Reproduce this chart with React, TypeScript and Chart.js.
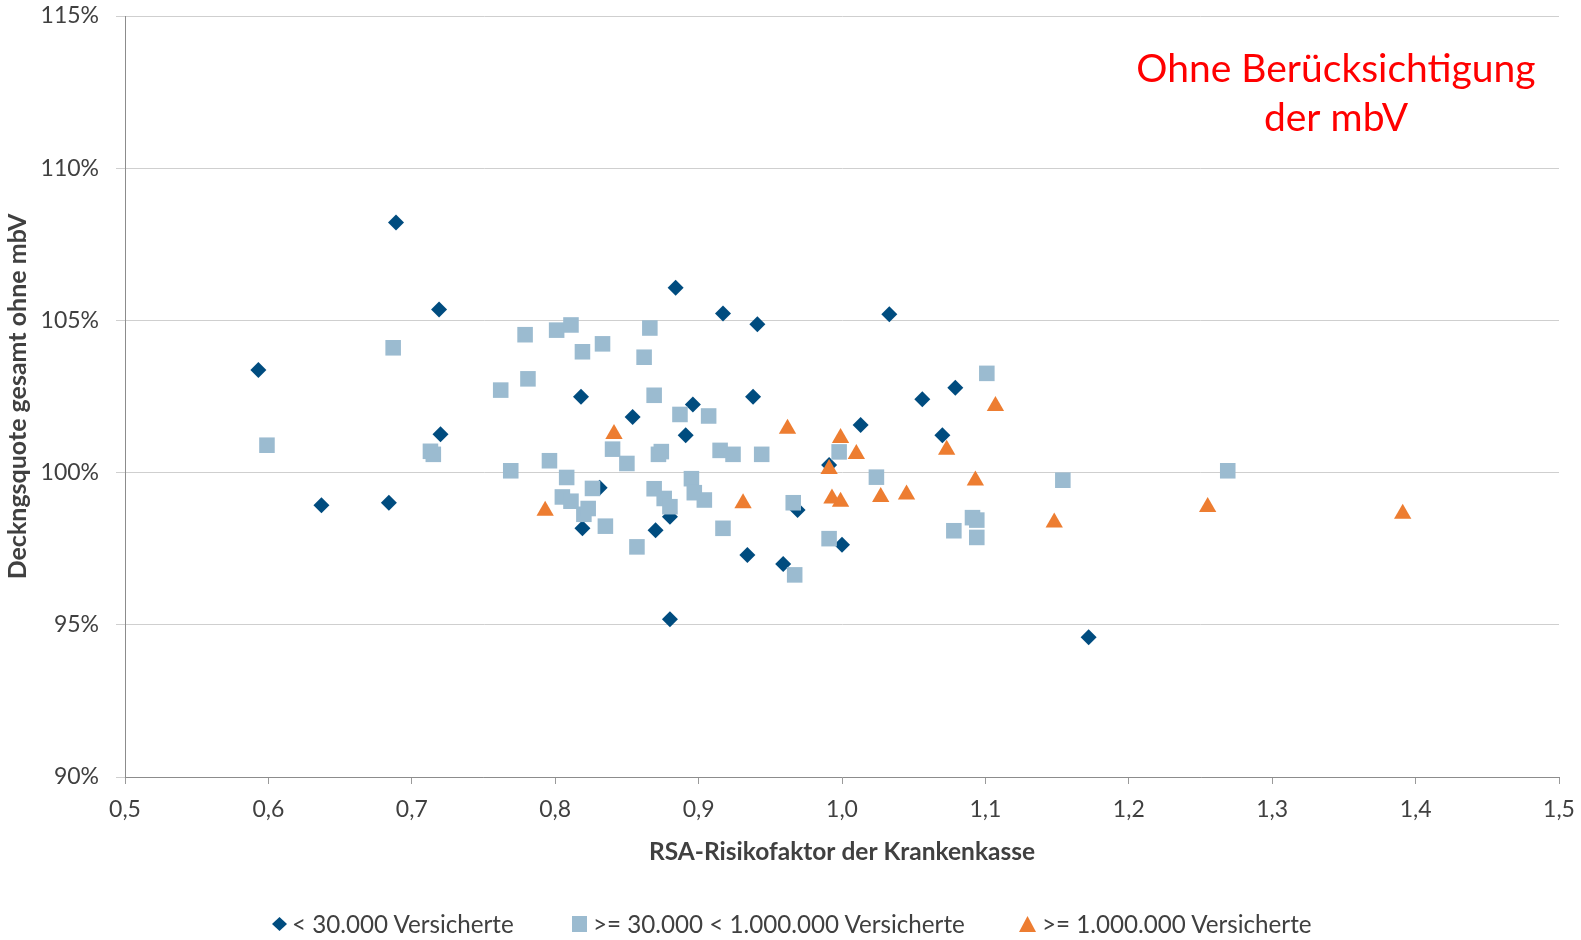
import React, { useEffect, useRef } from "react";
import { Chart, registerables } from "chart.js";

Chart.register(...registerables);

// ---- data ----
const smallX = [0.593, 0.637, 0.684, 0.689, 0.719, 0.720, 0.818, 0.819, 0.831, 0.854, 0.870, 0.880, 0.880, 0.884, 0.891, 0.896, 0.917, 0.934, 0.938, 0.941, 0.959, 0.969, 0.991, 1.000, 1.013, 1.033, 1.056, 1.070, 1.079, 1.172];
const smallY = [103.37, 98.93, 99.01, 108.22, 105.36, 101.26, 102.49, 98.17, 99.5, 101.83, 98.11, 95.18, 98.55, 106.07, 101.23, 102.24, 105.23, 97.29, 102.49, 104.87, 97.0, 98.77, 100.25, 97.63, 101.56, 105.2, 102.41, 101.23, 102.79, 94.59];

const midX = [0.599, 0.687, 0.713, 0.715, 0.762, 0.769, 0.779, 0.781, 0.796, 0.801, 0.805, 0.808, 0.811, 0.811, 0.819, 0.820, 0.823, 0.826, 0.833, 0.835, 0.840, 0.850, 0.857, 0.862, 0.866, 0.869, 0.869, 0.872, 0.874, 0.876, 0.880, 0.887, 0.895, 0.897, 0.904, 0.907, 0.915, 0.917, 0.924, 0.944, 0.966, 0.967, 0.991, 0.998, 1.024, 1.078, 1.091, 1.094, 1.094, 1.101, 1.154, 1.269];
const midY = [100.9, 104.1, 100.7, 100.6, 102.71, 100.06, 104.53, 103.08, 100.39, 104.68, 99.2, 99.84, 99.06, 104.85, 103.97, 98.63, 98.82, 99.48, 104.23, 98.24, 100.77, 100.3, 97.56, 103.79, 104.75, 102.54, 99.47, 100.6, 100.69, 99.15, 98.88, 101.91, 99.8, 99.34, 99.1, 101.86, 100.73, 98.17, 100.6, 100.6, 99.01, 96.64, 97.83, 100.68, 99.85, 98.09, 98.52, 98.44, 97.87, 103.26, 99.75, 100.06];

const largeX = [0.793, 0.841, 0.931, 0.962, 0.991, 0.993, 0.999, 0.999, 1.010, 1.027, 1.045, 1.073, 1.093, 1.107, 1.148, 1.255, 1.391];
const largeY = [98.75, 101.27, 98.99, 101.44, 100.12, 99.15, 101.14, 99.04, 100.61, 99.2, 99.28, 100.75, 99.74, 102.19, 98.36, 98.87, 98.65];

const seriesNames = ["< 30.000 Versicherte", ">= 30.000 < 1.000.000 Versicherte", ">= 1.000.000 Versicherte"];
const xTickLabels = ["0,5", "0,6", "0,7", "0,8", "0,9", "1,0", "1,1", "1,2", "1,3", "1,4", "1,5"];
const yTickLabels = ["90%", "95%", "100%", "105%", "110%", "115%"];
const xTitle = "RSA-Risikofaktor der Krankenkasse";
const yTitle = "Deckngsquote gesamt ohne mbV";
const noteLines = ["Ohne Berücksichtigung", "der mbV"];

// ---- styles ----
const W = 1581;
const H = 940;
const PLOT_LEFT = 125;
const PLOT_BOTTOM = 777;
const C_SMALL = "#004C7F";
const C_MID = "#9BBBD0";
const C_LARGE = "#ED7D31";
const TEXT = "#404040";
const FONT = "Lato";

const zip = (xs: number[], ys: number[]) => xs.map((x, i) => ({ x, y: ys[i] }));

const notePlugin = {
  id: "note",
  afterDraw(chart: any) {
    const ctx = chart.ctx;
    ctx.save();
    ctx.fillStyle = "#FF0000";
    ctx.font = `39px ${FONT}`;
    ctx.textAlign = "center";
    ctx.textBaseline = "alphabetic";
    ctx.fillText(noteLines[0], 1336, 82);
    ctx.fillText(noteLines[1], 1336, 131);
    ctx.restore();
  },
};

export default function App() {
  const ref = useRef<HTMLCanvasElement>(null);

  useEffect(() => {
    document.body.style.margin = "0";
    let chart: Chart | null = null;
    let cancelled = false;
    const make = () => {
      if (cancelled || !ref.current) return;
      chart = new Chart(ref.current, {
        type: "scatter",
        data: {
          datasets: [
            {
              label: seriesNames[0],
              data: zip(smallX, smallY),
              pointStyle: "rectRot",
              pointRadius: 8,
              backgroundColor: C_SMALL,
              borderColor: C_SMALL,
              borderWidth: 0,
              order: 3,
            },
            {
              label: seriesNames[1],
              data: zip(midX, midY),
              pointStyle: "rect",
              pointRadius: 11,
              backgroundColor: C_MID,
              borderColor: C_MID,
              borderWidth: 0,
              order: 2,
            },
            {
              label: seriesNames[2],
              data: zip(largeX, largeY),
              pointStyle: "triangle",
              pointRadius: 10,
              backgroundColor: C_LARGE,
              borderColor: C_LARGE,
              borderWidth: 0,
              order: 1,
            },
          ],
        },
        options: {
          responsive: false,
          animation: false,
          events: [],
          layout: { padding: { left: 0, top: 16, right: 22, bottom: 0 } },
          plugins: {
            legend: { display: false },
            tooltip: { enabled: false },
          },
          scales: {
            x: {
              type: "linear",
              min: 0.5,
              max: 1.5,
              ticks: {
                stepSize: 0.1,
                autoSkip: false,
                maxRotation: 0,
                padding: 12,
                color: TEXT,
                font: { family: FONT, size: 23 },
                callback: (v: any) => xTickLabels[Math.round((Number(v) - 0.5) * 10)] ?? "",
              },
              grid: { drawOnChartArea: false, drawTicks: true, tickLength: 7, color: "#9a9a9a" },
              border: { color: "#8c8c8c", width: 1 },
              title: {
                display: true,
                text: xTitle,
                color: TEXT,
                font: { family: FONT, size: 24.5, weight: "bold" },
                padding: { top: 0, bottom: 73 },
              },
              afterFit: (s: any) => {
                s.height = H - PLOT_BOTTOM;
                s.paddingLeft = 0;
                s.paddingRight = 0;
              },
            },
            y: {
              type: "linear",
              min: 90,
              max: 115,
              ticks: {
                stepSize: 5,
                padding: 17,
                color: TEXT,
                font: { family: FONT, size: 23 },
                callback: (v: any) => yTickLabels[Math.round((Number(v) - 90) / 5)] ?? "",
              },
              grid: { color: "#cfcfcf", tickLength: 9 },
              border: { color: "#8c8c8c", width: 1 },
              title: {
                display: true,
                text: yTitle,
                color: TEXT,
                font: { family: FONT, size: 25, weight: "bold" },
                padding: { top: 3, bottom: 0 },
              },
              afterFit: (s: any) => {
                s.width = PLOT_LEFT;
                s.paddingTop = 0;
                s.paddingBottom = 0;
              },
            },
          },
        },
        plugins: [notePlugin],
      } as any);
    };
    Promise.all([
      document.fonts.load(`23px ${FONT}`),
      document.fonts.load(`bold 24px ${FONT}`),
    ]).then(make, make);
    return () => {
      cancelled = true;
      if (chart) chart.destroy();
    };
  }, []);

  const legendText: React.CSSProperties = {
    position: "absolute",
    top: 909,
    height: 30,
    lineHeight: "30px",
    fontFamily: FONT,
    fontSize: 24.2,
    color: TEXT,
    whiteSpace: "nowrap",
  };

  return (
    <div style={{ position: "relative", width: W, height: H, background: "#fff", overflow: "hidden" }}>
      <canvas ref={ref} width={W} height={H} style={{ position: "absolute", left: 0, top: 0 }} />
      <svg style={{ position: "absolute", left: 272, top: 917 }} width={15} height={14}>
        <polygon points="7.5,0 15,7 7.5,14 0,7" fill={C_SMALL} />
      </svg>
      <span style={{ ...legendText, left: 292 }}>{seriesNames[0]}</span>
      <svg style={{ position: "absolute", left: 572, top: 916 }} width={15} height={16}>
        <rect x={0} y={0} width={15} height={16} fill={C_MID} />
      </svg>
      <span style={{ ...legendText, left: 593 }}>{seriesNames[1]}</span>
      <svg style={{ position: "absolute", left: 1019, top: 916 }} width={17} height={16}>
        <polygon points="8.5,0 17,16 0,16" fill={C_LARGE} />
      </svg>
      <span style={{ ...legendText, left: 1042 }}>{seriesNames[2]}</span>
    </div>
  );
}
